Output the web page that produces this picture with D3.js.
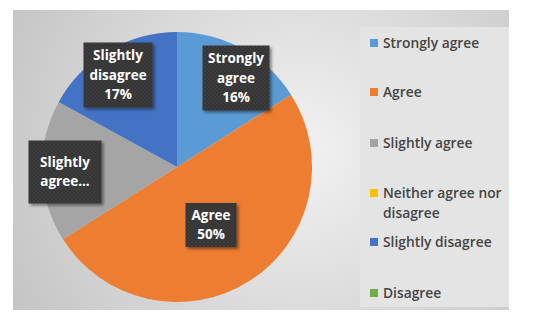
<!DOCTYPE html>
<html>
<head>
<meta charset="utf-8">
<script src="https://cdn.jsdelivr.net/npm/d3@7"></script>
<style>
  body { margin: 0; background: #fff; }
  svg { display: block; }
</style>
</head>
<body>
<div id="chart"></div>
<script>
var categories = ["Strongly agree", "Agree", "Slightly agree", "Neither agree nor disagree", "Slightly disagree", "Disagree"];
var values = [16, 50, 17, 0, 17, 0];
var labelLines = [["Strongly", "agree", "16%"], ["Agree", "50%"], ["Slightly", "agree..."], [], ["Slightly", "disagree", "17%"], []];
var legendLines = [["Strongly agree"], ["Agree"], ["Slightly agree"], ["Neither agree nor", "disagree"], ["Slightly disagree"], ["Disagree"]];
var colors = ["#5b9bd5", "#ed7d31", "#a5a5a5", "#ffc000", "#4472c4", "#70ad47"];

var width = 535, height = 321;
var cx = 177, cy = 167, radius = 135;

var svg = d3.select("#chart")
    .append("svg")
        .attr("width", width)
        .attr("height", height);

var defs = svg.append("defs");

var bg = defs.append("radialGradient")
    .attr("id", "bg-grad")
    .attr("gradientUnits", "userSpaceOnUse")
    .attr("cx", 300).attr("cy", 150).attr("r", 330);
bg.append("stop").attr("offset", "0%").attr("stop-color", "#f2f2f2");
bg.append("stop").attr("offset", "100%").attr("stop-color", "#c4c4c4");

var dots = defs.append("pattern")
    .attr("id", "dots")
    .attr("patternUnits", "userSpaceOnUse")
    .attr("width", 4).attr("height", 4);
dots.append("rect").attr("width", 4).attr("height", 4).attr("fill", "#363636");
dots.append("circle").attr("cx", 1).attr("cy", 1).attr("r", 0.7).attr("fill", "#4a4a4a");
dots.append("circle").attr("cx", 3).attr("cy", 3).attr("r", 0.7).attr("fill", "#424242");

var shadow = defs.append("filter")
    .attr("id", "shadow")
    .attr("x", "-20%").attr("y", "-20%")
    .attr("width", "150%").attr("height", "150%");
shadow.append("feDropShadow")
    .attr("dx", 2).attr("dy", 2)
    .attr("stdDeviation", 1.5)
    .attr("flood-color", "#000")
    .attr("flood-opacity", 0.45);

// chart area background
svg.append("rect")
    .attr("x", 13).attr("y", 10)
    .attr("width", 496).attr("height", 300)
    .attr("fill", "url(#bg-grad)");

// legend panel
svg.append("rect")
    .attr("x", 360).attr("y", 27)
    .attr("width", 149).attr("height", 280)
    .attr("fill", "#e4e4e4");

var pie = d3.pie().sort(null).value(function(d){ return d; });
var arcs = pie(values);
var arc = d3.arc().innerRadius(0).outerRadius(radius);

var g = svg.append("g")
    .attr("transform", "translate(" + cx + "," + cy + ")");

g.selectAll("path")
    .data(arcs)
    .enter()
    .append("path")
    .attr("d", arc)
    .attr("fill", function(d, i){ return colors[i]; });

// data label boxes (placed by hand like Excel lets you drag them)
var labelPos = [
    { x: 236, y: 78, w: 67, h: 65 },
    { x: 211, y: 225, w: 51, h: 44 },
    { x: 65, y: 172, w: 73, h: 63 },
    null,
    { x: 118, y: 75, w: 69, h: 65 },
    null
];
var lineH = 19.5;

var labels = svg.append("g").selectAll("g")
    .data(arcs.filter(function(d, i){ return labelPos[i]; }))
    .enter()
    .append("g")
    .attr("transform", function(d){
        var p = labelPos[d.index];
        return "translate(" + p.x + "," + p.y + ")";
    });

labels.append("rect")
    .attr("x", function(d){ return -labelPos[d.index].w / 2; })
    .attr("y", function(d){ return -labelPos[d.index].h / 2; })
    .attr("width", function(d){ return labelPos[d.index].w; })
    .attr("height", function(d){ return labelPos[d.index].h; })
    .attr("fill", "url(#dots)")
    .attr("filter", "url(#shadow)");

labels.each(function(d){
    var lines = labelLines[d.index];
    var t = d3.select(this).append("text")
        .attr("text-anchor", "middle")
        .attr("font-family", "'Open Sans', Lato, sans-serif")
        .attr("font-weight", "bold")
        .attr("font-size", "13.5px")
        .attr("fill", "#fff");
    lines.forEach(function(s, k){
        t.append("tspan")
            .attr("x", 0)
            .attr("y", (k - (lines.length - 1) / 2) * lineH)
            .attr("dy", "0.35em")
            .text(s);
    });
});

// legend
var legendY = [43, 92, 143, 193, 242, 293];
var legend = svg.append("g").selectAll("g")
    .data(categories)
    .enter()
    .append("g")
    .attr("transform", function(d, i){ return "translate(370," + legendY[i] + ")"; });

legend.append("rect")
    .attr("x", 0).attr("y", -4)
    .attr("width", 8).attr("height", 8)
    .attr("fill", function(d, i){ return colors[i]; });

legend.each(function(d, i){
    var t = d3.select(this).append("text")
        .attr("font-family", "'Open Sans', Lato, sans-serif")
        .attr("font-weight", 600)
        .attr("font-size", "13.8px")
        .attr("fill", "#454545");
    legendLines[i].forEach(function(s, k){
        t.append("tspan")
            .attr("x", 13)
            .attr("y", k * 20)
            .attr("dy", "0.35em")
            .text(s);
    });
});
</script>
</body>
</html>
